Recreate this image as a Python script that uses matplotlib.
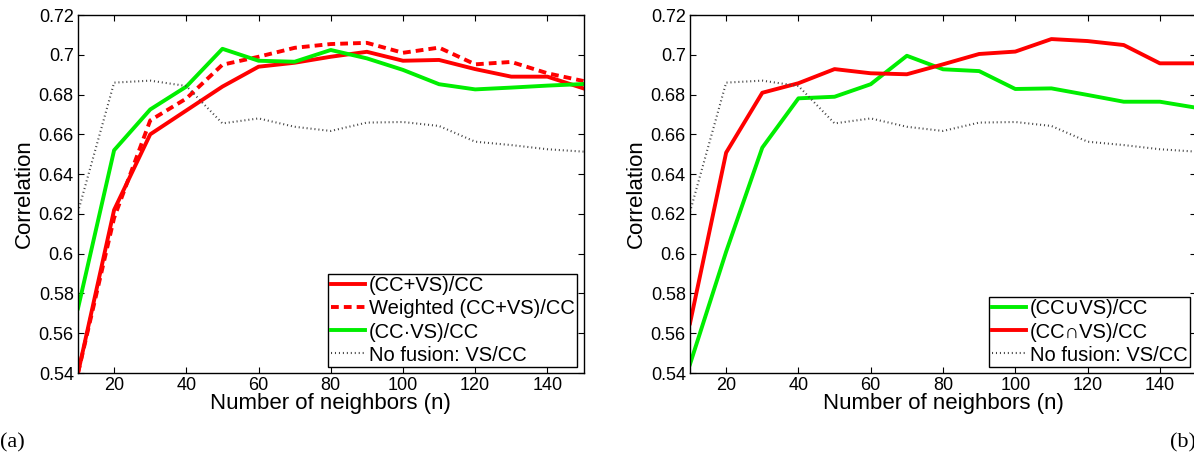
import matplotlib
matplotlib.use("Agg")
import matplotlib.pyplot as plt
from matplotlib.ticker import FuncFormatter

# number of neighbors
n = [10, 20, 30, 40, 50, 60, 70, 80, 90, 100, 110, 120, 130, 140, 150]

# panel (a)
sum_cc = [0.540, 0.622, 0.660, 0.672, 0.684, 0.694, 0.696, 0.699, 0.7015, 0.697, 0.6974, 0.6928, 0.689, 0.689, 0.6831]
weighted_sum_cc = [0.540, 0.618, 0.667, 0.678, 0.695, 0.699, 0.7035, 0.7054, 0.706, 0.701, 0.7036, 0.6952, 0.6964, 0.6907, 0.6868]
prod_cc = [0.5725, 0.652, 0.6725, 0.684, 0.703, 0.697, 0.6965, 0.7024, 0.6982, 0.6924, 0.6852, 0.6826, 0.6835, 0.6845, 0.6853]
no_fusion = [0.621, 0.686, 0.687, 0.6843, 0.6655, 0.668, 0.6638, 0.6617, 0.6659, 0.6662, 0.6642, 0.6563, 0.6546, 0.6525, 0.6513]

# panel (b)
union_cc = [0.5444, 0.601, 0.6533, 0.6781, 0.6789, 0.6852, 0.6995, 0.6927, 0.6918, 0.6828, 0.6831, 0.6798, 0.6764, 0.6764, 0.6734]
inter_cc = [0.565, 0.6508, 0.6809, 0.6857, 0.6928, 0.6907, 0.6902, 0.6952, 0.7004, 0.7016, 0.7079, 0.7069, 0.7049, 0.6957, 0.6957]

yticks = [0.54, 0.56, 0.58, 0.6, 0.62, 0.64, 0.66, 0.68, 0.7, 0.72]
xticks = [20, 40, 60, 80, 100, 120, 140]

plt.rcParams['font.family'] = ['Liberation Sans', 'DejaVu Sans']

RED = '#ff0000'
GREEN = '#00ee00'
GRAY = '#444444'
LW = 2.8
DOT = (0, (0.5, 1.4))


def style_axes(ax):
    ax.set_xlim(10, 150)
    ax.set_ylim(0.54, 0.72)
    ax.set_xticks(xticks)
    ax.set_yticks(yticks)
    ax.yaxis.set_major_formatter(FuncFormatter(lambda v, p: '%g' % round(v, 2)))
    ax.tick_params(direction='in', top=True, right=True, length=4, width=0.8, labelsize=13, pad=3)
    for s in ax.spines.values():
        s.set_linewidth(1.0)
    ax.set_xlabel('Number of neighbors (n)', fontsize=16, labelpad=-1)
    ax.set_ylabel('Correlation', fontsize=16, labelpad=3)


def add_legend(ax):
    leg = ax.legend(loc='lower right', fontsize=14.5, handlelength=1.7, handletextpad=0.2,
                    borderpad=0.12, labelspacing=0.2, borderaxespad=0.3, fancybox=False,
                    framealpha=1, edgecolor='black')
    leg.get_frame().set_linewidth(1.0)


def main():
    fig = plt.figure(figsize=(11.94, 4.57), dpi=100)
    ax1 = fig.add_axes([78 / 1194, 84 / 457, 505.5 / 1194, 358 / 457])
    ax2 = fig.add_axes([690 / 1194, 84 / 457, 506 / 1194, 358 / 457])

    ax1.plot(n, sum_cc, color=RED, lw=LW, label='(CC+VS)/CC')
    ax1.plot(n, weighted_sum_cc, color=RED, lw=LW, linestyle=(0, (2.0, 1.3)), label='Weighted (CC+VS)/CC')
    ax1.plot(n, prod_cc, color=GREEN, lw=LW, label='(CC\u00b7VS)/CC')
    ax1.plot(n, no_fusion, color=GRAY, lw=1.5, linestyle=DOT, label='No fusion: VS/CC')
    style_axes(ax1)
    add_legend(ax1)

    ax2.plot(n, union_cc, color=GREEN, lw=LW, label='(CC\u222aVS)/CC')
    ax2.plot(n, inter_cc, color=RED, lw=LW, label='(CC\u2229VS)/CC')
    ax2.plot(n, no_fusion, color=GRAY, lw=1.5, linestyle=DOT, label='No fusion: VS/CC')
    style_axes(ax2)
    add_legend(ax2)

    fig.text(0.0, 14 / 457, '(a)', fontsize=16, family='Liberation Serif', ha='left', va='center')
    fig.text(1170 / 1194, 14 / 457, '(b)', fontsize=16, family='Liberation Serif', ha='left', va='center')

    fig.savefig('out.png', dpi=100)


if __name__ == "__main__":
    main()
